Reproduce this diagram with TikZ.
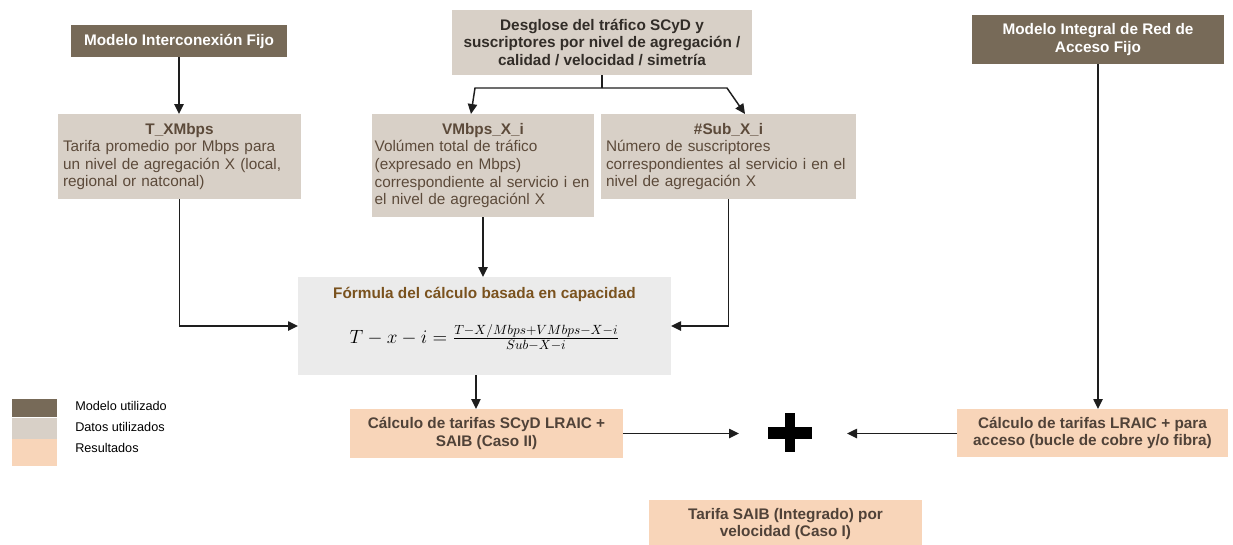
\documentclass[tikz,border=0pt]{standalone}
\usepackage{fontspec}
\setmainfont{Liberation Sans}
\usetikzlibrary{arrows.meta}

\definecolor{modelc}{RGB}{119,106,88}
\definecolor{datac}{RGB}{216,208,199}
\definecolor{formc}{RGB}{235,235,235}
\definecolor{resc}{RGB}{248,213,185}
\definecolor{txtc}{RGB}{92,74,58}
\definecolor{restxt}{RGB}{80,66,56}
\definecolor{desgtxt}{RGB}{50,45,40}
\definecolor{formtxt}{RGB}{122,82,30}
\definecolor{linec}{RGB}{30,30,30}

\tikzset{
  box/.style={inner sep=3.75pt, outer sep=0pt},
  modelbox/.style={box, fill=modelc, text=white, font=\fontsize{11.5}{13.2}\selectfont\bfseries, align=center},
  databox/.style={box, fill=datac, text=txtc, font=\fontsize{11.5}{13.2}\selectfont, align=left},
  resbox/.style={box, fill=resc, text=restxt, font=\fontsize{11.5}{13.2}\selectfont\bfseries, align=center},
  legbox/.style={anchor=north west, inner sep=0pt, minimum width=33.75pt},
  legtxt/.style={anchor=west, inner sep=0pt, font=\fontsize{9.5}{10}\selectfont},
  conn/.style={draw=linec, line width=1.1pt},
  arr/.style={conn, -{Triangle[length=7.5pt,width=7pt]}}
}

\begin{document}
\begin{tikzpicture}[x=0.75pt,y=0.75pt,yscale=-1,xscale=1]
        \useasboundingbox (0,0) rectangle (1233,544);

        %Shape: Rectangle (models)
        \node[modelbox, minimum width=162pt, minimum height=24pt] (mif) at (179,41) {Modelo Interconexión Fijo};
        \node[modelbox, minimum width=189pt, minimum height=36.75pt] (mirf) at (1098,39.5) {Modelo Integral de Red de\\Acceso Fijo};

        %Shape: Rectangle (data)
        \node[databox, align=center, text=desgtxt, font=\fontsize{11.5}{13.2}\selectfont\bfseries, minimum width=225pt, minimum height=48.75pt] (desg) at (602,42.5)
            {Desglose del tráfico SCyD y\\suscriptores por nivel de agregación /\\calidad / velocidad / simetría};
        \node[databox, text width=174.75pt, minimum height=63.75pt] (txm) at (179.5,156.5)
            {{\centering\bfseries T\_XMbps\par}Tarifa promedio por Mbps para\\un nivel de agregación X (local,\\regional or natconal)};
        \node[databox, inner xsep=2pt, text width=162.5pt, minimum height=77.25pt] (vmb) at (483,165.5)
            {{\centering\bfseries VMbps\_X\_i\par}Volúmen total de tráfico\\(expresado en Mbps)\\correspondiente al servicio i en\\el nivel de agregaciónl X};
        \node[databox, text width=183.75pt, minimum height=63.75pt] (sub) at (728.5,156.5)
            {{\centering\bfseries \#Sub\_X\_i\par}Número de suscriptores\\correspondientes al servicio i en el\\nivel de agregación X};

        %Shape: Rectangle (formula)
        \node[box, fill=formc, align=center, minimum width=279.75pt, minimum height=73.5pt] (form) at (484.5,326)
            {{\fontsize{11.5}{13.2}\selectfont\bfseries\color{formtxt} Fórmula del cálculo basada en capacidad}\\[16pt]
             {\fontsize{14}{16}\selectfont $T-x-i=\frac{T{-}X/Mbps{+}VMbps{-}X{-}i}{Sub{-}X{-}i}$\rule[-16pt]{0pt}{1pt}}};

        %Shape: Rectangle (results)
        \node[resbox, minimum width=204.75pt, minimum height=36.75pt] (scyd) at (486.5,433.5) {Cálculo de tarifas SCyD LRAIC +\\SAIB (Caso II)};
        \node[resbox, minimum width=203.25pt, minimum height=36pt] (lraic) at (1092.5,433) {Cálculo de tarifas LRAIC + para\\acceso (bucle de cobre y/o fibra)};
        \node[resbox, minimum width=204.75pt, minimum height=36pt] (saib) at (785.5,524) {Tarifa SAIB (Integrado) por\\velocidad (Caso I)};

        %Shape: Plus
        \node[inner sep=0pt, minimum width=33pt, minimum height=29.25pt] (plus) at (790,432.5) {};
        \fill[black] ([yshift=4.5pt]plus.west) rectangle ([yshift=-4.5pt]plus.east);
        \fill[black] ([xshift=-4.1pt]plus.north) rectangle ([xshift=4.1pt]plus.south);

        %Straight Lines
        \coordinate (jl) at (475,88);
        \coordinate (jr) at (727,88);
        \coordinate (pll) at (739,433.5);
        \coordinate (plr) at (847,433.5);
        \draw[arr] (mif.south) -- (mif.south |- txm.north);
        \draw[conn] (desg.south) -- (desg.south |- jl);
        \draw[arr] (desg.south |- jl) -- (jl) -- ([xshift=-9pt]vmb.north);
        \draw[arr] (desg.south |- jr) -- (jr) -- ([xshift=12.4pt]sub.north);
        \draw[arr] (txm.south) |- (form.west);
        \draw[arr] (vmb.south) -- (vmb.south |- form.north);
        \draw[arr] (sub.south) |- (form.east);
        \draw[arr] ([xshift=-6.4pt]form.south) -- ++(0,34);
        \draw[arr] (scyd.east) -- (pll);
        \draw[arr] (lraic.west |- plr) -- (plr);
        \draw[arr] (mirf.south) -- (mirf.south |- lraic.north);

        %Legend
        \node[legbox, fill=modelc, minimum height=13.5pt] (lgm) at (12,399) {};
        \node[legbox, fill=datac, minimum height=15.75pt] (lgd) at (lgm.south west) {};
        \node[legbox, fill=resc, minimum height=20.25pt] (lgr) at (lgd.south west) {};
        % Text Node
        \node[legtxt] (lgmt) at (75,406) {Modelo utilizado};
        \node[legtxt] (lgdt) at (75,427) {Datos utilizados};
        \node[legtxt] (lgrt) at (75,448) {Resultados};

\end{tikzpicture}
\end{document}
